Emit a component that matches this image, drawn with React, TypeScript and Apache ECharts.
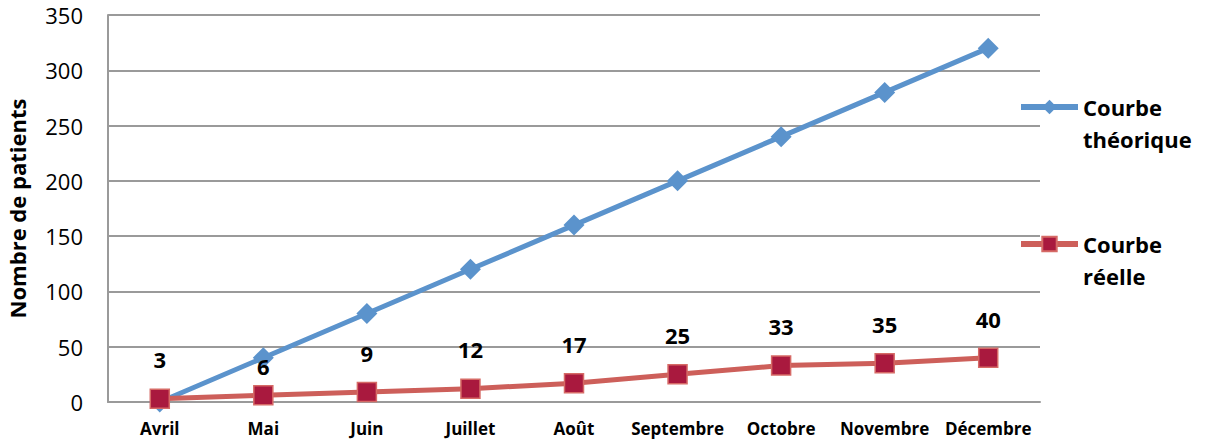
import React, { useEffect, useRef } from "react";
import * as echarts from "echarts";

const months = ["Avril", "Mai", "Juin", "Juillet", "Août", "Septembre", "Octobre", "Novembre", "Décembre"];
const theorique = [0, 40, 80, 120, 160, 200, 240, 280, 320];
const reelle = [3, 6, 9, 12, 17, 25, 33, 35, 40];
const yTicks = { min: 0, max: 350, interval: 50 };
const seriesNames = ["Courbe\nthéorique", "Courbe\nréelle"];

const FONT = "'Open Sans', Lato, sans-serif";

export default function App() {
  const ref = useRef<HTMLDivElement>(null);
  useEffect(() => {
    if (!ref.current) return;
    const chart = echarts.init(ref.current, undefined, { renderer: "svg" });
    chart.setOption({
      animation: false,
      backgroundColor: "#ffffff",
      textStyle: { fontFamily: FONT },
      grid: {
        left: 108,
        right: 171,
        top: 15,
        bottom: 39,
        containLabel: false,
        outerBoundsMode: "none",
      },
      legend: {
        orient: "vertical",
        left: 1018,
        top: 59,
        padding: 0,
        itemWidth: 57,
        itemHeight: 18,
        itemGap: 41,
        data: [
          { name: seriesNames[0], lineStyle: { width: 6, color: "#5b93cc" } },
          { name: seriesNames[1], lineStyle: { width: 6, color: "#cd5f5a" } },
        ],
        formatter: (name: string) => "\n" + name,
        textStyle: {
          fontFamily: FONT,
          fontSize: 22,
          fontWeight: "bold",
          color: "#000",
          lineHeight: 32,
        },
      },
      xAxis: {
        type: "category",
        data: months,
        boundaryGap: true,
        axisLine: { lineStyle: { color: "#9a9a9a", width: 2 } },
        axisTick: { show: false },
        axisLabel: { fontFamily: FONT, fontSize: 17, fontWeight: "bold", color: "#000", margin: 18, interval: 0 },
        splitLine: { show: false },
      },
      yAxis: {
        type: "value",
        min: yTicks.min,
        max: yTicks.max,
        interval: yTicks.interval,
        name: "Nombre de patients",
        nameLocation: "middle",
        nameGap: 80,
        nameRotate: 90,
        nameTextStyle: { fontFamily: FONT, fontSize: 22, fontWeight: "bold", color: "#000" },
        axisLine: { show: true, lineStyle: { color: "#9a9a9a", width: 2 } },
        axisTick: { show: false },
        axisLabel: { fontFamily: FONT, fontSize: 22, color: "#000", margin: 25 },
        splitLine: { lineStyle: { color: "#9a9a9a", width: 2 } },
      },
      series: [
        {
          name: seriesNames[0],
          type: "line",
          data: theorique,
          symbol: "diamond",
          symbolSize: 21,
          lineStyle: { color: "#5b93cc", width: 5 },
          itemStyle: { color: "#5b93cc" },
          z: 2,
        },
        {
          name: seriesNames[1],
          type: "line",
          data: reelle.map((v, i) =>
            i === 1 ? { value: v, label: { distance: 8 } } : { value: v }
          ),
          symbol: "rect",
          symbolSize: 19,
          lineStyle: { color: "#cd5f5a", width: 5 },
          itemStyle: { color: "#a9193e", borderColor: "#d66a66", borderWidth: 1.5 },
          label: {
            show: true,
            position: "top",
            distance: 18,
            fontFamily: FONT,
            fontSize: 22,
            fontWeight: "bold",
            color: "#000",
          },
          z: 3,
        },
      ],
    });
    return () => chart.dispose();
  }, []);
  return <div ref={ref} style={{ width: 1211, height: 441, position: "absolute", left: 0, top: 0 }} />;
}
